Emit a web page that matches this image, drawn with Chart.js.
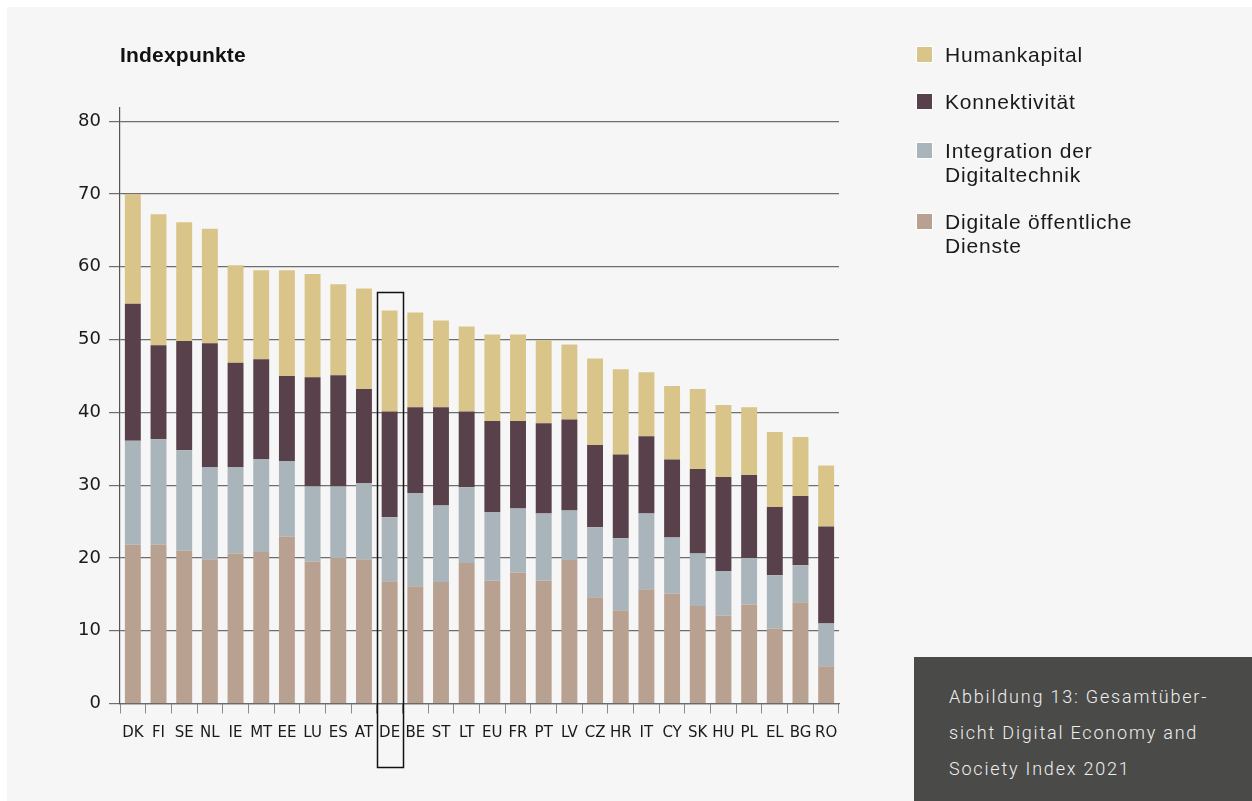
<!DOCTYPE html>
<html lang="de">
<head>
<meta charset="utf-8">
<script src="https://cdn.jsdelivr.net/npm/chart.js@4/dist/chart.umd.min.js"></script>
<style>
  html, body { margin:0; padding:0; background:#ffffff; }
  body { width:1252px; height:801px; position:relative; overflow:hidden; font-family:"Liberation Sans", Arial, sans-serif; }
  #panel { position:absolute; left:7px; top:7px; width:1245px; height:794px; background:#f6f6f6; }
  #wrap { position:absolute; left:0; top:0; width:1252px; height:801px; }
  #title { position:absolute; left:120px; top:43px; font-size:21px; line-height:24px; font-weight:bold; color:#111; letter-spacing:0.2px; }
  .leg { position:absolute; left:916px; font-size:21px; color:#1a1a1a; line-height:24px; letter-spacing:0.8px; }
  .leg .sw { position:absolute; left:0; top:3px; width:15px; height:15px; border:1px solid #ffffff; }
  .leg .tx { position:absolute; left:29px; top:0; white-space:nowrap; }
  #caption { position:absolute; left:914px; top:657px; width:338px; height:144px; background:#4a4a48; color:#efefef; font-family:Roboto, "Liberation Sans", sans-serif; font-weight:300; font-size:18px; line-height:36px; letter-spacing:1.8px; }
  #caption div { position:absolute; left:35px; top:22px; white-space:nowrap; }
</style>
</head>
<body>
<div id="panel"></div>
<div id="wrap"><canvas id="c" width="1252" height="801"></canvas></div>
<div id="title">Indexpunkte</div>
<div id="legend"></div>
<div id="caption"><div>Abbildung 13: Gesamtüber-<br>sicht Digital Economy and<br>Society Index 2021</div></div>
<script>
const categories = ["DK","FI","SE","NL","IE","MT","EE","LU","ES","AT","DE","BE","ST","LT","EU","FR","PT","LV","CZ","HR","IT","CY","SK","HU","PL","EL","BG","RO"];
const digitaleDienste = [21.8,21.8,21.0,19.8,20.6,20.8,22.9,19.5,20.0,19.8,16.8,16.1,16.7,19.3,16.9,18.0,16.9,19.7,14.6,12.8,15.7,15.1,13.4,12.1,13.6,10.3,13.9,5.1];
const integration = [14.3,14.5,13.8,12.7,11.9,12.8,10.4,10.3,9.8,10.5,8.8,12.8,10.5,10.4,9.4,8.8,9.2,6.8,9.6,9.9,10.4,7.7,7.2,6.1,6.4,7.3,5.1,5.9];
const konnektivitaet = [18.8,12.9,15.0,17.0,14.3,13.7,11.7,15.0,15.3,12.9,14.5,11.8,13.5,10.4,12.5,12.0,12.4,12.5,11.3,11.5,10.6,10.7,11.6,12.9,11.4,9.4,9.5,13.3];
const humankapital = [15.1,18.0,16.3,15.7,13.4,12.2,14.5,14.2,12.5,13.8,13.9,13.0,11.9,11.7,11.9,11.9,11.4,10.3,11.9,11.7,8.8,10.1,11.0,9.9,9.3,10.3,8.1,8.4];
const yTicks = [0,10,20,30,40,50,60,70,80];
const highlight = "DE";

const seriesNames = ["Humankapital","Konnektivität","Integration der\nDigitaltechnik","Digitale öffentliche\nDienste"];
const seriesColors = ["#d9c589","#58414b","#aab4bb","#b9a192"];

// legend (HTML)
const legTops = [43, 90, 139, 210];
const legEl = document.getElementById('legend');
seriesNames.forEach((n,i)=>{
  const d = document.createElement('div');
  d.className='leg'; d.style.top = legTops[i]+'px';
  d.innerHTML = '<div class="sw" style="background:'+seriesColors[i]+'"></div><div class="tx">'+n.replace('\n','<br>')+'</div>';
  legEl.appendChild(d);
});

const boxPlugin = {
  id:'deBox',
  afterDatasetsDraw(chart){
    const xs = chart.scales.x, ys = chart.scales.y;
    const idx = categories.indexOf(highlight);
    const c = xs.getPixelForValue(idx);
    const w = xs.width / categories.length;
    const total = digitaleDienste[idx]+integration[idx]+konnektivitaet[idx]+humankapital[idx];
    const top = ys.getPixelForValue(total+2.5);
    const bottom = chart.chartArea.bottom + 64;
    const ctx = chart.ctx;
    ctx.save();
    ctx.strokeStyle='#111'; ctx.lineWidth=1.5;
    ctx.strokeRect(Math.round(c-w/2)+0.5, Math.round(top)+0.5, Math.round(w), Math.round(bottom-top));
    ctx.restore();
  }
};

const tickFont = '"DejaVu Sans", "Liberation Sans", sans-serif';

new Chart(document.getElementById('c'), {
  type:'bar',
  data:{
    labels: categories,
    datasets:[
      {label:"Digitale öffentliche Dienste", data:digitaleDienste, backgroundColor:seriesColors[3]},
      {label:"Integration der Digitaltechnik", data:integration, backgroundColor:seriesColors[2]},
      {label:"Konnektivität", data:konnektivitaet, backgroundColor:seriesColors[1]},
      {label:"Humankapital", data:humankapital, backgroundColor:seriesColors[0]}
    ]
  },
  options:{
    responsive:false,
    animation:false,
    events:[],
    layout:{padding:{top:108,right:413,left:0,bottom:0}},
    plugins:{legend:{display:false}, tooltip:{enabled:false}},
    datasets:{bar:{barPercentage:0.62, categoryPercentage:1.0, borderWidth:0}},
    scales:{
      x:{
        stacked:true,
        grid:{display:true, drawOnChartArea:false, drawTicks:true, tickLength:10, color:'#8a8a8a', lineWidth:1, offset:true},
        border:{display:true, color:'#6a6a6a', width:1.2},
        ticks:{autoSkip:false, maxRotation:0, minRotation:0, color:'#1a1a1a', font:{family:tickFont, size:15}, padding:11},
        afterFit(s){ s.height = 97.5; }
      },
      y:{
        stacked:true,
        min:0, max:81.8,
        ticks:{stepSize:10, includeBounds:false, color:'#1a1a1a', font:{family:tickFont, size:18}, padding:8},
        afterBuildTicks(s){ s.ticks = yTicks.map(v=>({value:v})); },
        grid:{color:'#6e6e6e', lineWidth:1.2, tickLength:11, drawTicks:true},
        border:{display:true, color:'#555', width:1.2},
        afterFit(s){ s.width = 120; }
      }
    }
  },
  plugins:[boxPlugin]
});
</script>
</body>
</html>
